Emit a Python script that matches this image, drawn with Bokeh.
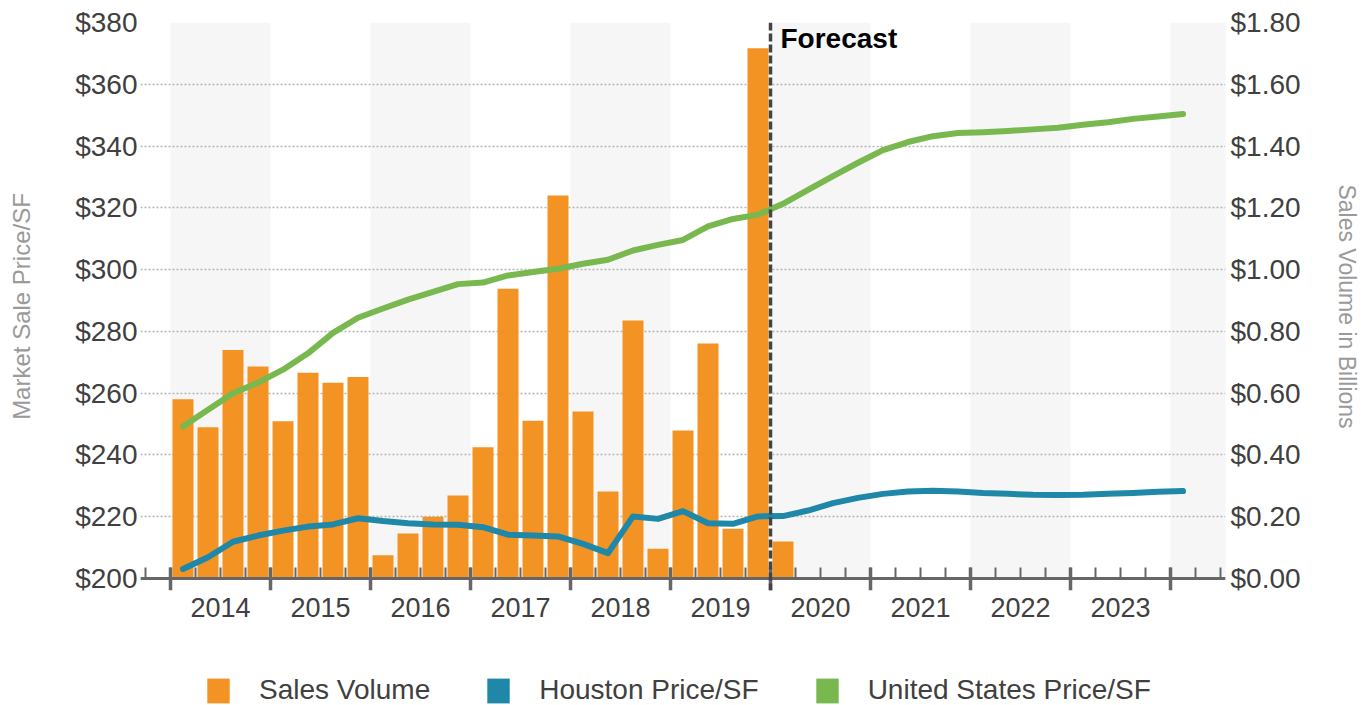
from bokeh.plotting import figure
from bokeh.layouts import column
from bokeh.models import (Range1d, LinearAxis, FixedTicker, NumeralTickFormatter,
                          BoxAnnotation, Span, Legend, LegendItem)
from bokeh.core.properties import value
from bokeh.embed import file_html
from bokeh.resources import INLINE

# ---------------- data ----------------
FIRST_YEAR = 2014
YEARS = [2014, 2015, 2016, 2017, 2018, 2019, 2020, 2021, 2022, 2023]
SHADED_YEARS = [2014, 2016, 2018, 2020, 2022, 2024]
FORECAST_START = 2020.0

# Sales volume in billions, 2014 Q1 .. 2020 Q1
SALES_VOLUME = [0.58, 0.49, 0.74, 0.686,
                0.509, 0.666, 0.634, 0.652,
                0.075, 0.146, 0.20, 0.269,
                0.425, 0.938, 0.511, 1.240,
                0.541, 0.282, 0.835, 0.096,
                0.479, 0.761, 0.161, 1.717,
                0.120]

# Market sale price per SF, 2014 Q1 .. 2024 Q1
HOUSTON_PRICE = [203.1, 206.9, 211.9, 213.9,
                 215.5, 216.8, 217.5, 219.5,
                 218.6, 217.9, 217.5, 217.4,
                 216.6, 214.2, 213.9, 213.6,
                 211.2, 208.2, 220.1, 219.3,
                 221.8, 217.9, 217.7, 220.1,
                 220.2, 222.0, 224.4, 226.1,
                 227.4, 228.2, 228.4, 228.2,
                 227.7, 227.4, 227.1, 227.0,
                 227.1, 227.4, 227.7, 228.1,
                 228.3]

US_PRICE = [249.2, 254.6, 260.0, 263.4,
            267.6, 272.9, 279.5, 284.4,
            287.4, 290.3, 292.8, 295.3,
            295.8, 298.1, 299.2, 300.3,
            301.9, 303.2, 306.2, 308.0,
            309.6, 314.0, 316.4, 317.8,
            321.3, 325.8, 330.3, 334.6,
            338.7, 341.3, 343.2, 344.2,
            344.5, 344.9, 345.4, 345.9,
            346.9, 347.7, 348.8, 349.6,
            350.4]

LEFT_TICKS = [200, 220, 240, 260, 280, 300, 320, 340, 360, 380]
RIGHT_TICKS = [0.0, 0.2, 0.4, 0.6, 0.8, 1.0, 1.2, 1.4, 1.6, 1.8]

LEGEND_LABELS = ["Sales Volume", "Houston Price/SF", "United States Price/SF"]

# ---------------- styles ----------------
ORANGE = "#F39323"
BLUE = "#1F87A8"
GREEN = "#78B84F"
AXIS_GRAY = "#666666"
TEXT = "#404040"
TITLE_GRAY = "#9A9A9A"
BAND = "#F6F6F6"
FONT = "Liberation Sans"

W = 1369
MAIN_H, LEG_H = 640, 65
TOP, LEFT, RIGHT = 22, 140, 144
VALUE_PX = 556          # pixel height of the value span (200..380)
BELOW_PX = 12           # room below the value axis line for tick marks
MAJOR_UP, MAJOR_DOWN, MINOR_UP = 11, 12, 11

left_lo, left_hi = LEFT_TICKS[0], LEFT_TICKS[-1]
right_lo, right_hi = RIGHT_TICKS[0], RIGHT_TICKS[-1]
u_left = (left_hi - left_lo) / VALUE_PX
u_right = (right_hi - right_lo) / VALUE_PX


def qx(i):
    return FIRST_YEAR + (i + 0.5) / 4.0


sales_x = [qx(i) for i in range(len(SALES_VOLUME))]
price_x = [qx(i) for i in range(len(HOUSTON_PRICE))]

p = figure(width=W, height=MAIN_H, output_backend="svg", toolbar_location=None,
           x_range=Range1d(2013.70, 2024.55),
           y_range=Range1d(left_lo - BELOW_PX * u_left, left_hi),
           min_border_left=LEFT, min_border_right=RIGHT,
           min_border_top=TOP, min_border_bottom=MAIN_H - TOP - VALUE_PX - BELOW_PX)
p.extra_y_ranges = {"vol": Range1d(right_lo - BELOW_PX * u_right, right_hi)}
p.outline_line_color = None
p.background_fill_color = "white"

# shaded year bands
for yr in SHADED_YEARS:
    p.add_layout(BoxAnnotation(left=yr, right=yr + 1, bottom=left_lo,
                               fill_color=BAND, fill_alpha=1.0,
                               line_color=None, level="image"))

# grid
p.xgrid.grid_line_color = None
p.ygrid.ticker = FixedTicker(ticks=LEFT_TICKS)
p.ygrid.grid_line_color = "#B5B5B5"
p.ygrid.grid_line_dash = "2 2"
p.ygrid.grid_line_width = 1.5

# bars (right axis)
bars = p.vbar(x=sales_x, top=SALES_VOLUME, width=0.21, bottom=right_lo,
              fill_color=ORANGE, line_color=None, y_range_name="vol")

# lines (left axis)
p.line(price_x, HOUSTON_PRICE, line_color=BLUE, line_width=6,
       line_cap="round", line_join="round")
p.line(price_x, US_PRICE, line_color=GREEN, line_width=6,
       line_cap="round", line_join="round")

# value-axis line and tick marks at year / quarter boundaries
boundaries = YEARS + [YEARS[-1] + 1]
quarter_bounds = [YEARS[0] - 0.25 + 0.25 * k for k in range(4 * (len(YEARS) + 1) + 3)]
p.add_layout(Span(location=left_lo, dimension="width", line_color=AXIS_GRAY,
                  line_width=3))
p.segment(x0=quarter_bounds, x1=quarter_bounds,
          y0=[left_lo] * len(quarter_bounds),
          y1=[left_lo + MINOR_UP * u_left] * len(quarter_bounds),
          line_color=AXIS_GRAY, line_width=2)
p.segment(x0=boundaries, x1=boundaries,
          y0=[left_lo - MAJOR_DOWN * u_left] * len(boundaries),
          y1=[left_lo + MAJOR_UP * u_left] * len(boundaries),
          line_color=AXIS_GRAY, line_width=3.5)

# forecast divider
p.add_layout(Span(location=FORECAST_START, dimension="height", line_color="#444444",
                  line_width=3.5, line_dash="8 3"))
p.text(x=[FORECAST_START], y=[left_hi], text=["Forecast"],
       text_font=value(FONT), text_font_style="bold", text_font_size="28px",
       text_color="black", text_baseline="alphabetic", text_align="left",
       x_offset=10, y_offset=16)

# ---------------- axes ----------------
yl = p.yaxis[0]
yl.ticker = FixedTicker(ticks=LEFT_TICKS)
yl.formatter = NumeralTickFormatter(format="$0")
yl.axis_line_color = None
yl.major_tick_line_color = None
yl.minor_tick_line_color = None
yl.major_tick_out = 0
yl.minor_tick_out = 0
yl.major_label_standoff = 3
yl.major_label_text_font = FONT
yl.major_label_text_font_size = "28px"
yl.major_label_text_color = TEXT
yl.axis_label = "Market Sale Price/SF"
yl.axis_label_text_font = FONT
yl.axis_label_text_font_size = "24px"
yl.axis_label_text_font_style = "normal"
yl.axis_label_text_color = TITLE_GRAY
yl.axis_label_standoff = 37

yr_axis = LinearAxis(y_range_name="vol", ticker=FixedTicker(ticks=RIGHT_TICKS),
                     formatter=NumeralTickFormatter(format="$0.00"))
yr_axis.axis_line_color = None
yr_axis.major_tick_line_color = None
yr_axis.minor_tick_line_color = None
yr_axis.major_tick_out = 0
yr_axis.minor_tick_out = 0
yr_axis.major_label_standoff = 5
yr_axis.major_label_text_font = FONT
yr_axis.major_label_text_font_size = "28px"
yr_axis.major_label_text_color = TEXT
yr_axis.axis_label = "Sales Volume in Billions"
yr_axis.axis_label_text_font = FONT
yr_axis.axis_label_text_font_size = "23px"
yr_axis.axis_label_text_font_style = "normal"
yr_axis.axis_label_text_color = TITLE_GRAY
yr_axis.axis_label_standoff = 30
p.add_layout(yr_axis, "right")

# bottom axis: year labels centred in each year
centers = [y + 0.5 for y in YEARS]
xa = p.xaxis[0]
xa.ticker = FixedTicker(ticks=centers, minor_ticks=[])
xa.major_label_overrides = {c: str(y) for c, y in zip(centers, YEARS)}
xa.axis_line_color = None
xa.major_tick_line_color = None
xa.minor_tick_line_color = None
xa.major_tick_in = 0
xa.major_tick_out = 0
xa.minor_tick_in = 0
xa.minor_tick_out = 0
xa.major_label_standoff = 7
xa.major_label_text_font = FONT
xa.major_label_text_font_size = "27px"
xa.major_label_text_color = TEXT

# ---------------- legend (own strip below the chart) ----------------
lg = figure(width=W, height=LEG_H, output_backend="svg", toolbar_location=None,
            x_axis_location=None, y_axis_location=None,
            x_range=Range1d(0, 1), y_range=Range1d(0, 1),
            min_border_left=0, min_border_right=0, min_border_top=0, min_border_bottom=0)
lg.outline_line_color = None
lg.xgrid.visible = False
lg.ygrid.visible = False
swatches = []
for c in (ORANGE, BLUE, GREEN):
    swatches.append(lg.vbar(x=[0.5], top=[0], bottom=[0], width=0.1,
                            fill_color=c, line_color=None))
legend = Legend(items=[LegendItem(label=lab, renderers=[r])
                       for lab, r in zip(LEGEND_LABELS, swatches)],
                orientation="horizontal", location=(64, -1),
                glyph_width=28, glyph_height=31, label_height=25,
                label_standoff=27, spacing=54, padding=0, margin=0,
                border_line_color=None, background_fill_alpha=0,
                label_text_font=FONT, label_text_font_size="28px",
                label_text_color=TEXT)
lg.add_layout(legend, "center")

open("out.html", "w").write(file_html(column(p, lg), INLINE))
